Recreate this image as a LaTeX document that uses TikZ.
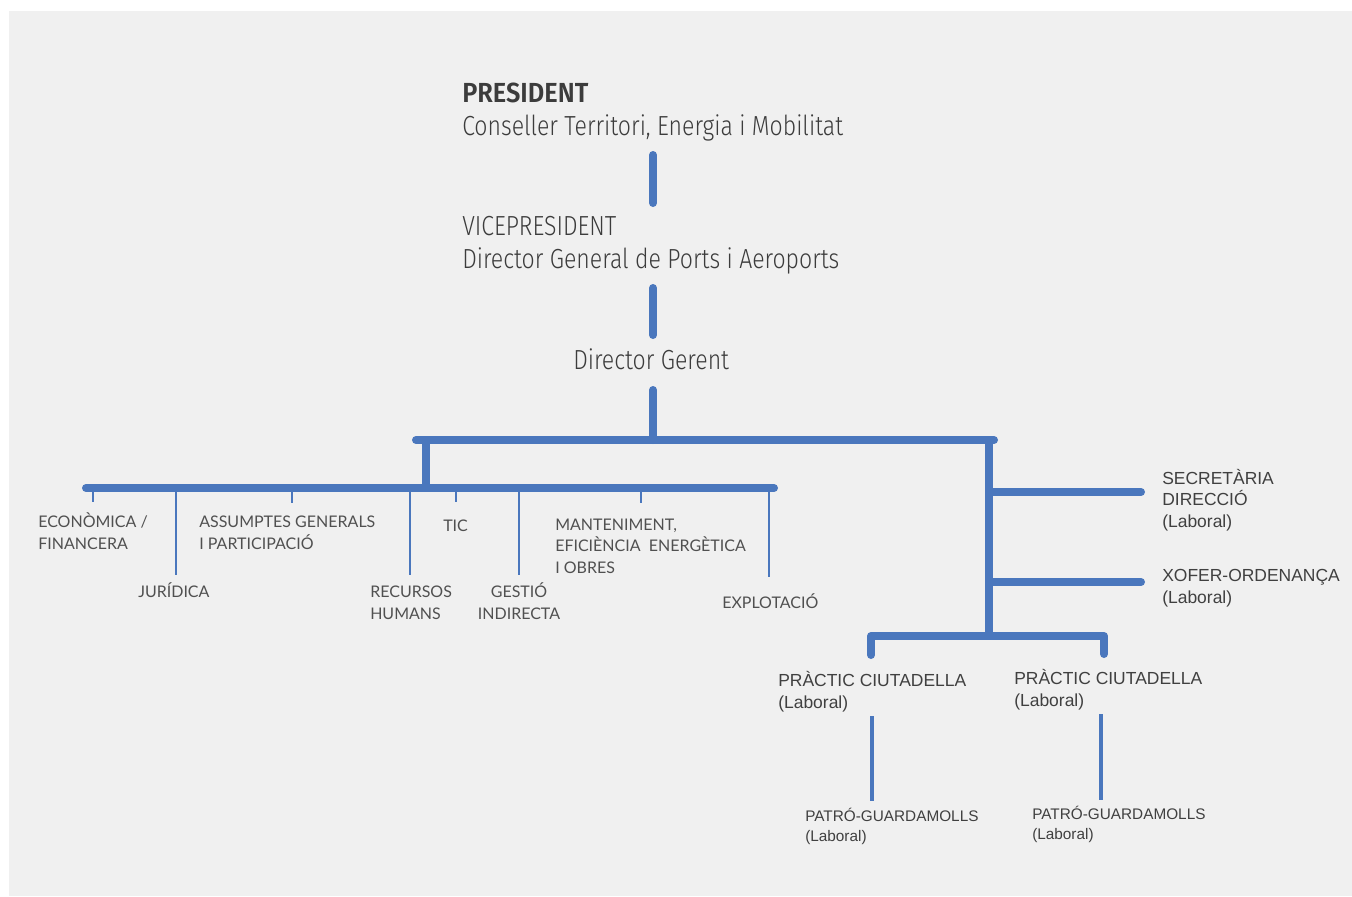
\documentclass[tikz,border=0pt]{standalone}
\usepackage{fontspec}
\setmainfont{Fira Sans}
\newfontfamily\topfont[FakeStretch=0.835,BoldFont={Fira Sans SemiBold},BoldFeatures={FakeStretch=0.92}]{Fira Sans Light}
\newfontfamily\lowfont{Lato}
\newfontfamily\rfont{Liberation Sans}
\definecolor{bg}{HTML}{F0F0F0}
\definecolor{lineblue}{HTML}{4A77BD}
\definecolor{txttop}{HTML}{3C3C3C}
\definecolor{txtlow}{HTML}{505050}
\definecolor{txtr}{HTML}{404040}
\begin{document}
\begin{tikzpicture}[x=0.75pt,y=-0.75pt,
  thickln/.style={draw=lineblue,line width=6pt,line cap=round},
  thinln/.style={draw=lineblue,line width=1.6pt},
  midln/.style={draw=lineblue,line width=2.4pt},
  toptxt/.style={anchor=base west,inner sep=0pt,align=left,text=txttop,
    font=\topfont\fontsize{20.7pt}{24.75pt}\selectfont},
  lowtxt/.style={anchor=base west,inner sep=0pt,align=left,text=txtlow,
    font=\lowfont\fontsize{12pt}{16.5pt}\selectfont},
  rtxt/.style={anchor=base west,inner sep=0pt,align=left,text=txtr,
    font=\rfont\fontsize{13.1pt}{16.1pt}\selectfont},
  ptxt/.style={anchor=base west,inner sep=0pt,align=left,text=txtr,
    font=\rfont\fontsize{11.5pt}{15pt}\selectfont}]
\useasboundingbox (0,0) rectangle (1352,896);
\fill[white] (0,0) rectangle (1352,896);
\fill[bg] (9,11) rectangle (1352,896);

% text nodes (anchored at the baseline of the last line)
\node[toptxt] (pres) at (462,135) {\textbf{PRESIDENT}\\Conseller Territori, Energia i Mobilitat};
\node[toptxt] (vice) at (462,268) {VICEPRESIDENT\\Director General de Ports i Aeroports};
\node[toptxt] (dg) at (573,369) {Director Gerent};

\node[lowtxt] (eco) at (38,549) {ECONÒMICA /\\FINANCERA};
\node[lowtxt] (jur) at (138,597) {JURÍDICA};
\node[lowtxt] (ass) at (199,549) {ASSUMPTES GENERALS\\I PARTICIPACIÓ};
\node[lowtxt] (tic) at (443,531) {TIC};
\node[lowtxt] (rrhh) at (370,619) {RECURSOS\\HUMANS};
\node[lowtxt,anchor=base,align=center] (gest) at (519,619) {GESTIÓ\\INDIRECTA};
\node[lowtxt,font=\lowfont\fontsize{12pt}{16.1pt}\selectfont] (mant) at (555,573) {MANTENIMENT,\\EFICIÈNCIA\ \ ENERGÈTICA\\I OBRES};
\node[lowtxt] (expl) at (722,608) {EXPLOTACIÓ};

\node[rtxt] (sec) at (1162,527) {SECRETÀRIA\\DIRECCIÓ\\(Laboral)};
\node[rtxt] (xof) at (1162,603) {XOFER-ORDENANÇA\\(Laboral)};
\node[rtxt] (pr1) at (778,708) {PRÀCTIC CIUTADELLA\\(Laboral)};
\node[rtxt] (pr2) at (1014,706) {PRÀCTIC CIUTADELLA\\(Laboral)};
\node[ptxt] (pat1) at (805,841) {PATRÓ-GUARDAMOLLS\\(Laboral)};
\node[ptxt] (pat2) at (1032,839) {PATRÓ-GUARDAMOLLS\\(Laboral)};

% coordinates
\coordinate (a1) at (653,155); \coordinate (a2) at (653,203);
\coordinate (b1) at (653,288); \coordinate (b2) at (653,335);
\coordinate (c1) at (653,390); \coordinate (c2) at (653,440);
\coordinate (t1) at (416,440); \coordinate (t2) at (994,440);
\coordinate (l1) at (426,440); \coordinate (l2) at (426,488);
\coordinate (s1) at (86,488);  \coordinate (s2) at (774,488);
\coordinate (r1) at (989,440); \coordinate (r2) at (989,636);
\coordinate (sec0) at (989,492); \coordinate (sec1) at (1141,492);
\coordinate (xof0) at (989,582); \coordinate (xof1) at (1141,582);
\coordinate (p1) at (871,655); \coordinate (p1t) at (871,636);
\coordinate (p2) at (1104,654); \coordinate (p2t) at (1104,636);
\coordinate (q1a) at (872,716); \coordinate (q1b) at (872,801);
\coordinate (q2a) at (1101,714); \coordinate (q2b) at (1101,800);

% thick connectors
\draw[thickln] (a1) -- (a2);
\draw[thickln] (b1) -- (b2);
\draw[thickln] (c1) -- (c2);
\draw[thickln] (t1) -- (t2);
\draw[thickln,line cap=butt] (l1) -- (l2);
\draw[thickln] (s1) -- (s2);
\draw[thickln,line cap=butt] (r1) -- (r2);
\draw[thickln] (sec0) -- (sec1);
\draw[thickln] (xof0) -- (xof1);
\draw[thickln,line join=round] (p1) -- (p1t) -- (p2t) -- (p2);

% thin drops from the second bar
\foreach \x/\y [count=\i] in {93/502,176/575,292/503,410/575,456/502,519/575,641/503,769/577}{
  \coordinate (d\i a) at (\x,488); \coordinate (d\i b) at (\x,\y);
  \draw[thinln] (d\i a) -- (d\i b);
}
\draw[midln] (q1a) -- (q1b);
\draw[midln] (q2a) -- (q2b);
\end{tikzpicture}
\end{document}
